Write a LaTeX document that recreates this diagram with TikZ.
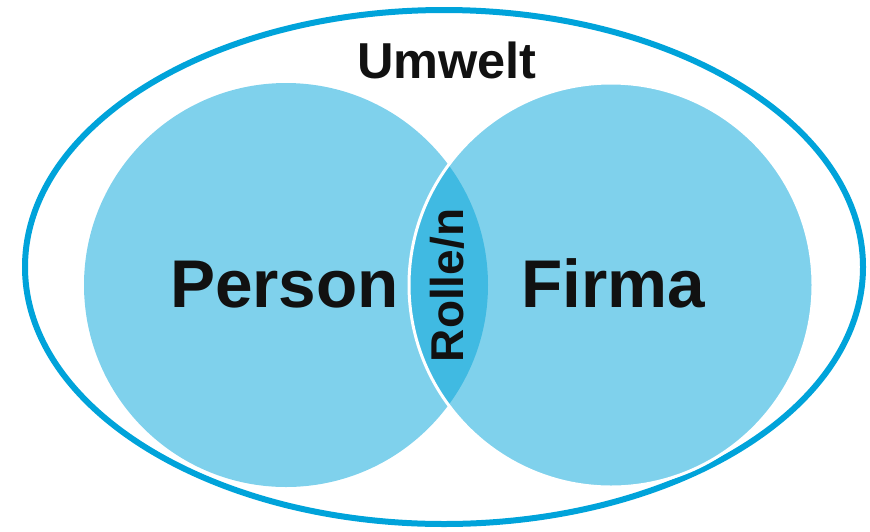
\documentclass[tikz,border=0pt]{standalone}
\usepackage{fontspec}
\setmainfont{Liberation Sans}
\definecolor{ringblue}{HTML}{00A3DA}
\definecolor{setblue}{HTML}{7FD1EC}
\definecolor{lensblue}{HTML}{40BAE2}
\definecolor{inktext}{HTML}{111111}
\begin{document}
\begin{tikzpicture}[x=1pt,y=-1pt,
  setfill/.style={fill=setblue},
  labelbase/.style={text=inktext, anchor=base, inner sep=0pt},
  biglabel/.style={labelbase, font=\bfseries\fontsize{67.5}{67.5}\selectfont},
  midlabel/.style={labelbase, font=\bfseries\fontsize{50.5}{50.5}\selectfont},
  lenslabel/.style={labelbase, font=\bfseries\fontsize{46}{46}\selectfont, rotate=90}]
  \useasboundingbox (0,0) rectangle (870,531);
  % surrounding environment
  \draw[ringblue, line width=6pt] (444,267) ellipse [x radius=419, y radius=257];
  % the two sets
  \fill[setfill] (286,285) circle [radius=202];
  \fill[setfill] (611,285) circle [radius=202];
  % overlap of both sets
  \begin{scope}
    \clip (286,285) circle [radius=202];
    \fill[lensblue] (611,285) circle [radius=202];
  \end{scope}
  \draw[white, line width=3pt] (611,285) circle [radius=202];
  % labels
  \node[midlabel] (umwelt) at (447,78) {Umwelt};
  \node[biglabel] (person) at (284.5,307) {Person};
  \node[biglabel] (firma) at (613,307) {Firma};
  \node[lenslabel] (rolle) at (463.5,285.5) {Rolle/n};
\end{tikzpicture}
\end{document}
